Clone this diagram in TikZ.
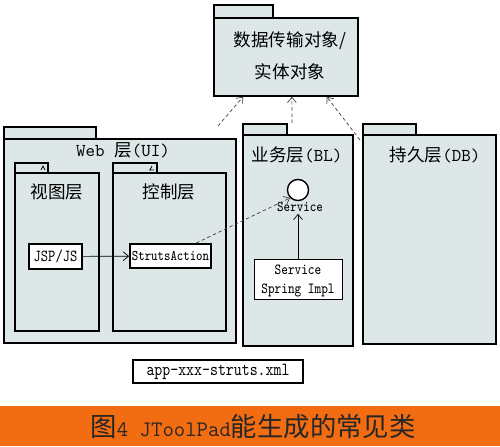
\documentclass[tikz,border=0pt]{standalone}
\usepackage{fontspec}
\newfontfamily\cjk{Noto Sans CJK SC}
\newfontfamily\narrowtt[FakeStretch=0.82]{Latin Modern Mono}
\usetikzlibrary{arrows.meta, positioning, fit, calc}
\definecolor{pkgfill}{RGB}{221,231,231}
\definecolor{banner}{RGB}{242,108,18}

\begin{document}
\begin{tikzpicture}[
    x=0.02cm, y=-0.02cm,
    >={Straight Barb[length=3pt,width=5pt]},
    pkg/.style={draw, line width=0.9pt, fill=pkgfill, inner sep=0pt},
    pkgname/.style={font=\cjk\fontsize{10}{18}\selectfont, inner sep=0pt},
    latin/.style={font=\narrowtt\bfseries\fontsize{#1}{12}\selectfont, inner sep=0pt},
    cls/.style={draw, line width=1.1pt, fill=white, inner sep=0pt}
  ]
  \tikzset{dep/.style={->, dash pattern=on 2pt off 1.5pt, black!75, thin}}
  \useasboundingbox (0,0) rectangle (500,446);

  % Data transfer objects
  \node[pkg, fit={(214,5)(273,18)}] (dtotab) {};
  \node[pkg, fit={(214,18)(358,96)}] (dto) {};
  \node[pkgname, align=center] (dtoname) at (290,56) {数据传输对象/\\实体对象};

  % Web layer
  \node[pkg, fit={(4,127)(96,139)}] (webtab) {};
  \node[pkg, fit={(4,139)(236,343)}] (web) {};
  \node[pkgname] (webname) at (123,150)
    {{\ttfamily\fontsize{10.3}{12}\selectfont Web }层{\ttfamily\fontsize{10.3}{12}\selectfont (UI)}};

  % View layer
  \node[pkg, fit={(15,163)(48,173)}] (viewtab) {};
  \node[pkg, fit={(15,173)(99,331)}] (view) {};
  \node[pkgname] (viewname) at (57,192) {视图层};
  \draw[thin] (41,170) -- (43,166) -- (45,170);

  % Control layer
  \node[pkg, fit={(113,163)(157,173)}] (ctrltab) {};
  \node[pkg, fit={(113,173)(226,331)}] (ctrl) {};
  \node[pkgname] (ctrlname) at (169,192) {控制层};
  \draw[thin] (150,170) -- (152,166) (149,170) -- (154,170);

  % Business layer
  \node[pkg, fit={(243,124)(287,135)}] (bltab) {};
  \node[pkg, fit={(243,135)(353,346)}] (bl) {};
  \node[pkgname] (blname) at (297,155)
    {业务层{\ttfamily\fontsize{10.3}{12}\selectfont (BL)}};

  % Persistence layer
  \node[pkg, fit={(363,124)(416,135)}] (dbtab) {};
  \node[pkg, fit={(363,135)(496,344)}] (db) {};
  \node[pkgname] (dbname) at (435,155)
    {持久层{\ttfamily\fontsize{10.3}{12}\selectfont (DB)}};

  % Classes
  \node[cls, fit={(29,244)(82,269)}] (jsp) {};
  \node[latin=9.6] at (jsp) {JSP/JS};
  \node[cls, fit={(130,244)(211,268)}] (struts) {};
  \node[latin=8.4] at (struts) {StrutsAction};
  \node[draw, circle, thick, fill=white, minimum size=12, inner sep=0pt] (svc) at (298,190) {};
  \node[latin=8.5, inner sep=1pt] (svcname) at (300,207) {Service};
  \node[cls, thin, fit={(254,259)(342,299)}] (impl) {};
  \node[latin=8.8] at (298,270) {Service};
  \node[latin=8.8] at (298,290) {Spring Impl};
  \node[cls, fit={(133,360)(303,383)}] (xml) {};
  \node[latin=10.5] at (xml) {app-xxx-struts.xml};

  % Connections
  \draw[->, thin] (jsp) -- (struts);
  \draw[dep] ($(struts.north west)!0.81!(struts.north east)$) -- (svc.south west);
  \draw[->, thin] (impl.north) -- (impl.north |- svcname.south);

  \coordinate (webdep) at (218,126);
  \coordinate (bldep) at (292,123);
  \coordinate (dbdep) at (360,140);
  \draw[dep] (webdep) -- ($(dto.south west)!0.205!(dto.south east)$);
  \draw[dep] (bldep) -- ($(dto.south west)!0.54!(dto.south east)$);
  \draw[dep] (dbdep) -- ($(dto.south west)!0.78!(dto.south east)$);

  % Caption
  \fill[banner] (0,406) rectangle (500,446);
  \node[font=\cjk\fontsize{15}{18}\selectfont, text=black!85] (caption) at (253,427)
    {图{\ttfamily\fontsize{12.6}{14}\selectfont 4 JToolPad}能生成的常见类};
\end{tikzpicture}
\end{document}
